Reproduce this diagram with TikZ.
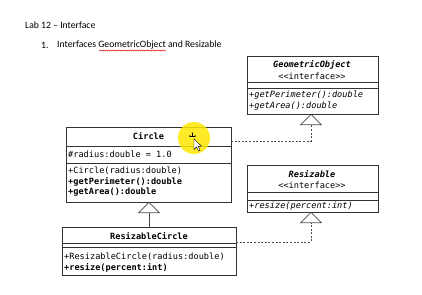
\documentclass[tikz,border=0pt]{standalone}
\usepackage{fontspec}
\setmainfont{Carlito}
\newfontfamily\umlmono{DejaVu Sans Mono}
\usetikzlibrary{arrows.meta,decorations.pathmorphing}

\begin{document}
\begin{tikzpicture}[x=1pt,y=-1pt,
  umlbox/.style={draw=black!80, line width=0.6pt, anchor=north west,
    inner sep=0pt, outer sep=0pt},
  divider/.style={draw=black!80, line width=0.6pt},
  mono/.style={font=\umlmono\fontsize{8.6}{10}\selectfont, inner sep=0pt},
  member/.style={mono, anchor=west},
  heading/.style={font=\fontsize{9.7}{11}\selectfont, inner sep=0pt, anchor=west},
  inherit/.style={draw=black!70, line width=0.6pt,
    -{Triangle[open, width=22pt, length=11pt, line width=0.6pt]}},
  realize/.style={inherit, dash pattern=on 2pt off 1.6pt}
]
\useasboundingbox (0,0) rectangle (422,294);
\fill[white] (0,0) rectangle (422,294);

% heading text
\node[heading] (lab) at (25,25) {Lab 12 -- Interface};
\node[heading] (num) at (41,45) {1.};
\node[heading] (item) at (57,45) {Interfaces GeometricObject and Resizable};
\draw[red!85!black, line width=0.4pt,
  decorate, decoration={snake, amplitude=0.6pt, segment length=2.2pt}]
  (99,50.5) -- (166,50.5);

% GeometricObject interface
\node[umlbox, minimum width=131pt, minimum height=58pt] (geo) at (247,56) {};
\draw[divider] (247,82) -- (378,82);
\draw[divider] (247,88) -- (378,88);
\node[mono] (geoname) at (312,65) {\textbf{\textit{GeometricObject}}};
\node[mono] (geostereo) at (312,76) {<{}<interface>{}>};
\node[member] (geom1) at (249,95) {\textit{+getPerimeter():double}};
\node[member] (geom2) at (249,106) {\textit{+getArea():double}};

% Circle class
\node[umlbox, minimum width=165pt, minimum height=75pt] (circ) at (66,127) {};
\draw[divider] (66,146) -- (231,146);
\draw[divider] (66,163) -- (231,163);
\node[mono] (circname) at (148.5,136) {\textbf{Circle}};
\node[member] (circa1) at (68,154) {\#radius:double = 1.0};
\node[member] (circm1) at (68,171) {+Circle(radius:double)};
\node[member] (circm2) at (68,181.5) {\textbf{+getPerimeter():double}};
\node[member] (circm3) at (68,192) {\textbf{+getArea():double}};

% Resizable interface
\node[umlbox, minimum width=131pt, minimum height=47pt] (res) at (247,165) {};
\draw[divider] (247,192) -- (378,192);
\draw[divider] (247,200) -- (378,200);
\node[mono] (resname) at (312,174) {\textbf{\textit{Resizable}}};
\node[mono] (resstereo) at (312,185) {<{}<interface>{}>};
\node[member] (resm1) at (249,206) {\textit{+resize(percent:int)}};

% ResizableCircle class
\node[umlbox, minimum width=174pt, minimum height=48pt] (rcirc) at (62,227) {};
\draw[divider] (62,243) -- (236,243);
\draw[divider] (62,247) -- (236,247);
\node[mono] (rcircname) at (149,236) {\textbf{ResizableCircle}};
\node[member] (rcircm1) at (64,257) {+ResizableCircle(radius:double)};
\node[member] (rcircm2) at (64,267.5) {\textbf{+resize(percent:int)}};

% relations
\draw[inherit] (rcirc.north) -- (rcirc.north |- circ.south);
\coordinate (geobend) at (311,141);
\draw[realize] (circ.east |- geobend) -- (geobend) -- (geobend |- geo.south);
\coordinate (resbend) at (311,242);
\draw[realize] (rcirc.east |- resbend) -- (resbend) -- (resbend |- res.south);

% pointer highlight with move cursor
\fill[yellow!90!orange, opacity=0.85] (194,138) circle (16pt);
\begin{scope}[line width=0.45pt, -{Stealth[length=1.4pt, width=1.6pt]}]
  \draw (192.5,136) -- (192.5,132.5);
  \draw (192.5,136) -- (189,136);
  \draw (192.5,136) -- (196,136);
\end{scope}
\draw[black, line width=0.4pt, fill=white]
  (194,139) -- (194,149.5) -- (196.5,147) -- (198.5,151) -- (200,150.3)
  -- (198.2,146.4) -- (201.5,146.2) -- cycle;
\end{tikzpicture}
\end{document}
